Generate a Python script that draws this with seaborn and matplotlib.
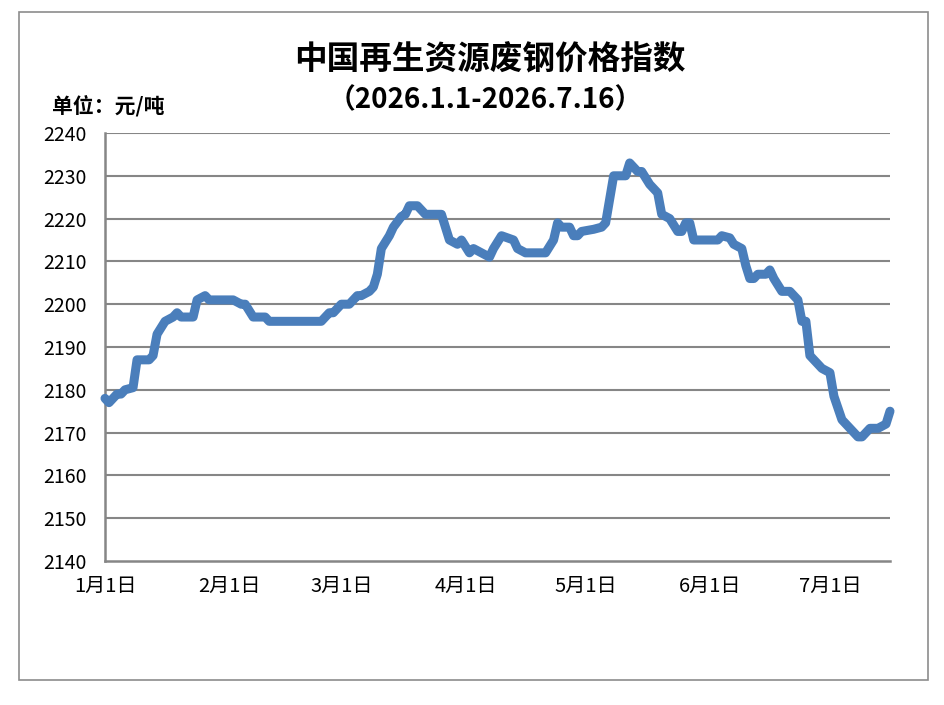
import matplotlib
matplotlib.use("Agg")
import matplotlib.pyplot as plt
from matplotlib.patches import Rectangle
import pandas as pd
import seaborn as sns

dates = ["01-01", "01-02", "01-04", "01-05", "01-06", "01-08", "01-09", "01-12", "01-13", "01-14",
         "01-16", "01-18", "01-19", "01-20", "01-23", "01-24", "01-26", "01-27", "02-02", "02-04",
         "02-05", "02-07", "02-10", "02-11", "02-24", "02-26", "02-27", "03-01", "03-03", "03-05",
         "03-06", "03-08", "03-09", "03-10", "03-11", "03-13", "03-14", "03-16", "03-17", "03-18",
         "03-20", "03-22", "03-26", "03-28", "03-30", "03-31", "04-02", "04-03", "04-07", "04-08",
         "04-10", "04-13", "04-14", "04-16", "04-21", "04-23", "04-24", "04-25", "04-27", "04-28",
         "04-29", "04-30", "05-03", "05-05", "05-06", "05-08", "05-11", "05-12", "05-14", "05-15",
         "05-17", "05-19", "05-20", "05-22", "05-24", "05-25", "05-26", "05-27", "05-28", "06-03",
         "06-04", "06-06", "06-07", "06-09", "06-10", "06-11", "06-12", "06-13", "06-15", "06-16",
         "06-17", "06-19", "06-21", "06-23", "06-24", "06-25", "06-26", "06-28", "06-29", "07-01",
         "07-02", "07-04", "07-06", "07-08", "07-09", "07-11", "07-13", "07-15", "07-16"]
values = [2178, 2177, 2179, 2179, 2180, 2180.5, 2187, 2187, 2188, 2193,
          2196, 2197, 2198, 2197, 2197, 2201, 2202, 2201, 2201, 2200,
          2200, 2197, 2197, 2196, 2196, 2198, 2198, 2200, 2200, 2202,
          2202, 2203, 2204, 2207, 2213, 2216, 2218, 2220.5, 2221, 2223,
          2223, 2221, 2221, 2215, 2214, 2215, 2212, 2213, 2211, 2213,
          2216, 2215, 2213, 2212, 2212, 2215, 2219, 2218, 2218, 2216,
          2216, 2217, 2217.5, 2218, 2219, 2230, 2230, 2233, 2231, 2231,
          2228, 2226, 2221, 2220, 2217, 2217, 2219, 2219, 2215, 2215,
          2216, 2215.5, 2214, 2213, 2209, 2206, 2206, 2207, 2207, 2208,
          2206, 2203, 2203, 2201, 2196, 2196, 2188, 2186, 2185, 2184,
          2178.5, 2173, 2171, 2169, 2169, 2171, 2171, 2172, 2175]

tick_dates = ["01-01", "02-01", "03-01", "04-01", "05-01", "06-01", "07-01"]
tick_labels = ["1月1日", "2月1日", "3月1日", "4月1日", "5月1日", "6月1日", "7月1日"]
y_ticks = list(range(2140, 2241, 10))

title = "中国再生资源废钢价格指数"
subtitle = "（2026.1.1-2026.7.16）"
unit = "单位：元/吨"

sns.set_theme(style="white")
plt.rcParams["font.family"] = ["Noto Sans CJK SC", "DejaVu Sans"]

df = pd.DataFrame({"date": pd.to_datetime(["2026-" + d for d in dates]), "value": values})

fig = plt.figure(figsize=(9.45, 7.05), dpi=100)
fig.patch.set_facecolor("white")
ax = fig.add_axes([105 / 945, 1 - 561 / 705, (890 - 105) / 945, (561 - 133) / 705])

grid_c = "#868686"
for yv in y_ticks[1:]:
    ax.axhline(yv, color=grid_c, lw=1.5, zorder=1)

sns.lineplot(data=df, x="date", y="value", ax=ax, color="#4A7EBB", lw=6.5,
             solid_joinstyle="round", solid_capstyle="round", zorder=3, clip_on=False)

ax.set_xlim(pd.Timestamp("2026-01-01"), pd.Timestamp("2026-07-16"))
ax.set_ylim(2140, 2240)
ax.set_yticks(y_ticks)
ax.set_yticklabels([str(v) for v in y_ticks], fontsize=14, color="black")
ax.set_xticks(pd.to_datetime(["2026-" + d for d in tick_dates]))
ax.set_xticklabels(tick_labels, fontsize=14.5, color="black")
ax.set_xlabel("")
ax.set_ylabel("")
ax.tick_params(axis="y", length=0, pad=13)
ax.tick_params(axis="x", length=0, pad=11)
for s in ["top", "right"]:
    ax.spines[s].set_visible(False)
for s in ["left", "bottom"]:
    ax.spines[s].set_color(grid_c)
    ax.spines[s].set_linewidth(1.8)

fig.text(490 / 945, 1 - 60 / 705, title, ha="center", va="center", fontsize=23.5,
         fontweight="bold", color="black")
fig.text(485 / 945, 1 - 100 / 705, subtitle, ha="center", va="center", fontsize=20,
         fontweight="bold", color="black")
fig.text(52 / 945, 1 - 106 / 705, unit, ha="left", va="center", fontsize=15,
         fontweight="bold", color="black")

fig.patches.append(Rectangle((19 / 945, 1 - 680 / 705), (928 - 19) / 945, (680 - 12) / 705,
                             transform=fig.transFigure, fill=False, edgecolor="#8c8c8c", lw=1.2))

fig.savefig("out.png", dpi=100)
